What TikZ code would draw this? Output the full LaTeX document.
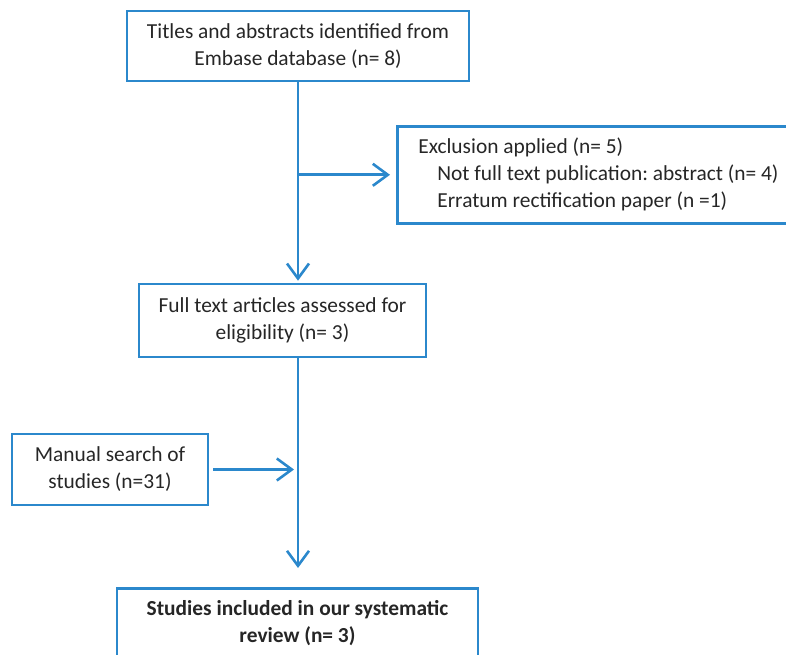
\documentclass[tikz,border=0pt]{standalone}
\usepackage{fontspec}
\setmainfont{Carlito}
\usetikzlibrary{positioning, arrows.meta, calc}
\definecolor{flowblue}{HTML}{2B88CC}
\definecolor{flowtext}{HTML}{262626}
\frenchspacing

\begin{document}
\begin{tikzpicture}[x=1pt, y=-1pt,
  box/.style={draw=flowblue, line width=2.6pt, text=flowtext, font=\fontsize{21.4}{27}\selectfont, align=center, inner sep=0pt},
  arr/.style={draw=flowblue, line width=2.6pt, -{Straight Barb[length=15pt, width=22pt, line width=2.6pt]}}]
\clip (0,0) rectangle (786,655);
\node[box, minimum width=342pt, minimum height=70pt] (titles) at (298,46) {Titles and abstracts identified from\\Embase database (n= 8)};
\node[box, anchor=north west, minimum width=430pt, minimum height=97pt, align=flush left, text width=400pt, inner xsep=21pt] (excl) at (396,125) {Exclusion applied (n= 5)\\\hspace*{19pt}Not full text publication: abstract (n= 4)\\\hspace*{19pt}Erratum rectification paper (n =1)};
\node[box, minimum width=287pt, minimum height=73pt] (full) at (282.5,320.5) {Full text articles assessed for\\eligibility (n= 3)};
\node[box, minimum width=196pt, minimum height=71pt] (manual) at (110,469.5) {Manual search of\\studies (n=31)};
\node[box, anchor=north, minimum width=361pt, inner ysep=12pt, text depth=60pt, font=\fontsize{21.4}{27}\selectfont\bfseries] (incl) at (297.5,587) {Studies included in our systematic\\review (n= 3)};

\draw[arr, shorten >=2pt] (titles.south) -- (titles.south |- full.north);
\draw[arr, shorten >=6pt] (excl.west -| titles.south) -- (excl.west);
\draw[arr, shorten >=19pt] (full.south -| titles.south) -- (incl.north -| titles.south);
\draw[arr, shorten <=4pt, shorten >=4pt] (manual.east) -- (manual.east -| titles.south);
\end{tikzpicture}
\end{document}
